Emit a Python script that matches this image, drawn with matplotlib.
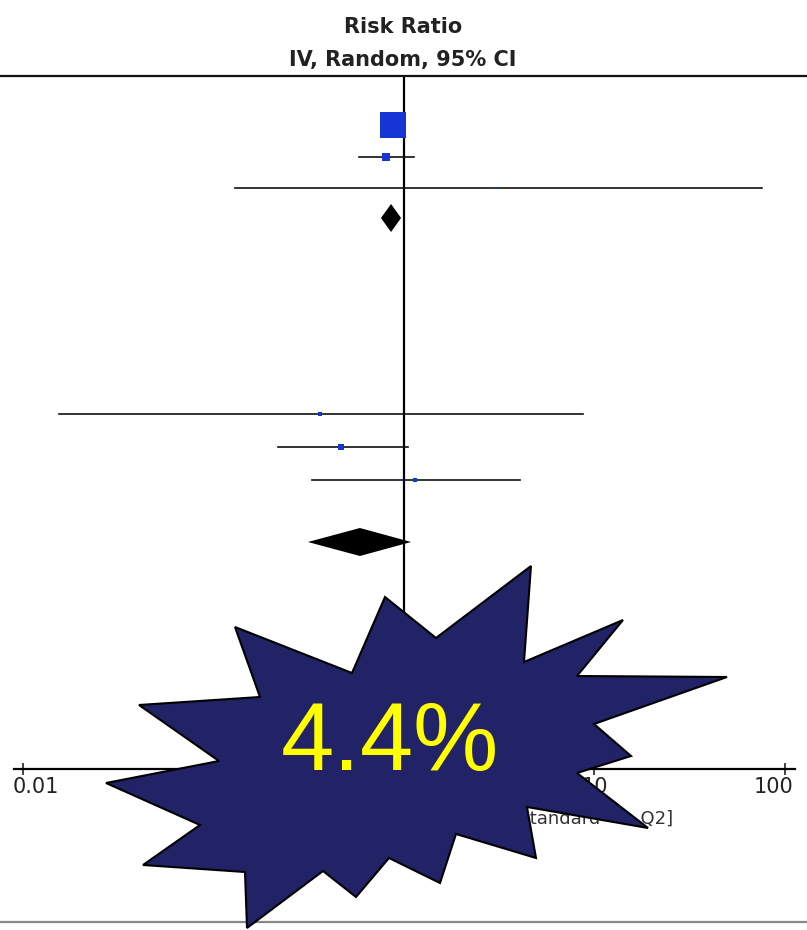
import numpy as np
import matplotlib
matplotlib.use('Agg')
import matplotlib.pyplot as plt
from matplotlib.patches import Polygon
from matplotlib.lines import Line2D
import matplotlib.transforms as mtransforms

# study estimates (risk ratio, 95% CI) and relative box weights
rr = [0.875, 0.80, 3.04, 0.362, 0.467, 1.14]
ci_lo = [0.80, 0.58, 0.13, 0.0155, 0.218, 0.329]
ci_hi = [0.96, 1.13, 75.7, 8.7, 1.05, 4.06]
weight = [89.6, 9.9, 0.5, 2.0, 4.5, 2.0]

# pooled subgroup results
pooled_rr = [0.855, 0.587]
pooled_lo = [0.757, 0.313]
pooled_hi = [0.965, 1.09]

tick_vals = [0.01, 0.1, 1, 10, 100]
tick_text = ['0.01', '', '', '10', '100']  # 0.1 and 1 sit under the callout

# layout (pixel rows from the top of the figure)
W, H = 807, 930
study_row = [125, 157, 188, 414, 447, 480]
pooled_row = [218, 542]
AXIS_Y, TOP_Y = 769, 76
X_LEFT, X_RIGHT = 14, 795
PX_PER_DECADE = 190.5
ZERO_PX = 404

fig = plt.figure(figsize=(W / 100, H / 100), dpi=100)
ax = fig.add_axes([X_LEFT / W, 1 - AXIS_Y / H, (X_RIGHT - X_LEFT) / W, (AXIS_Y - TOP_Y) / H])
ax.set_xscale('log')
ax.set_xlim(10 ** ((X_LEFT - ZERO_PX) / PX_PER_DECADE), 10 ** ((X_RIGHT - ZERO_PX) / PX_PER_DECADE))
ax.set_ylim(AXIS_Y, TOP_Y)
for s in ['top', 'left', 'right']:
    ax.spines[s].set_visible(False)
ax.spines['bottom'].set_linewidth(1.6)
ax.set_yticks([])
ax.set_xticks(tick_vals)
ax.set_xticklabels(tick_text)
ax.xaxis.set_minor_locator(matplotlib.ticker.NullLocator())
ax.tick_params(axis='x', direction='inout', length=8, width=1.2, pad=2,
               labelsize=15, colors='#222222')
labs = ax.get_xticklabels()
labs[0].set_ha('left')
labs[0].set_transform(labs[0].get_transform() + mtransforms.ScaledTranslation(-10 / 100, 0, fig.dpi_scale_trans))
labs[-1].set_ha('right')
labs[-1].set_transform(labs[-1].get_transform() + mtransforms.ScaledTranslation(8 / 100, 0, fig.dpi_scale_trans))

# line of no effect
ax.axvline(1, color='black', lw=1.6, zorder=2)

# study rows
box_side = 27 * np.sqrt(np.array(weight) / max(weight))
for y, est, lo, hi, side in zip(study_row, rr, ci_lo, ci_hi, box_side):
    ax.plot([lo, hi], [y, y], color='#111111', lw=1.2, zorder=3)
    ax.scatter([est], [y], marker='s', s=(max(side, 2.5) * 0.72) ** 2, color='#1535d5',
               linewidths=0, zorder=4)

# pooled diamonds
for y, est, lo, hi in zip(pooled_row, pooled_rr, pooled_lo, pooled_hi):
    ax.fill([lo, est, hi, est], [y, y - 14, y, y + 14], color='black', lw=0, zorder=4)

# right-hand axis caption; both ends peek out from behind the callout
fig.text(673 / W, 1 - 819 / H, 'Favours [standard       Q2]',
         fontsize=13, color='#333333', ha='right', va='center')

# header
fig.text(403 / W, 1 - 27 / H, 'Risk Ratio', ha='center', va='center',
         fontsize=15, fontweight='bold', color='#222222')
fig.text(403 / W, 1 - 60 / H, 'IV, Random, 95% CI', ha='center', va='center',
         fontsize=15, fontweight='bold', color='#222222')
fig.add_artist(Line2D([0, 1], [1 - TOP_Y / H] * 2, color='#111111', lw=1.6))
fig.add_artist(Line2D([0, 1], [1 - 922 / H] * 2, color='#888888', lw=1.6))

# starburst callout
burst = [(385, 597), (352, 673), (235, 627), (260, 697), (139, 705), (219, 761),
         (106, 783), (200, 825), (143, 865), (245, 872), (247, 928), (323, 871),
         (356, 897), (389, 858), (440, 883), (456, 834), (536, 858), (527, 807),
         (648, 828), (577, 773), (631, 756), (594, 724), (727, 677), (577, 676),
         (623, 620), (524, 662), (531, 566), (436, 638)]
burst = [(x / W, 1 - y / H) for x, y in burst]
fig.add_artist(Polygon(burst, closed=True, facecolor='#222266', edgecolor='black',
                       lw=1.5, transform=fig.transFigure, zorder=5))
fig.text(390 / W, 1 - 745 / H, '4.4%', ha='center', va='center', fontsize=69,
         color='#ffff00', family=['Liberation Sans', 'DejaVu Sans'], zorder=6)

fig.savefig('out.png', dpi=100)
